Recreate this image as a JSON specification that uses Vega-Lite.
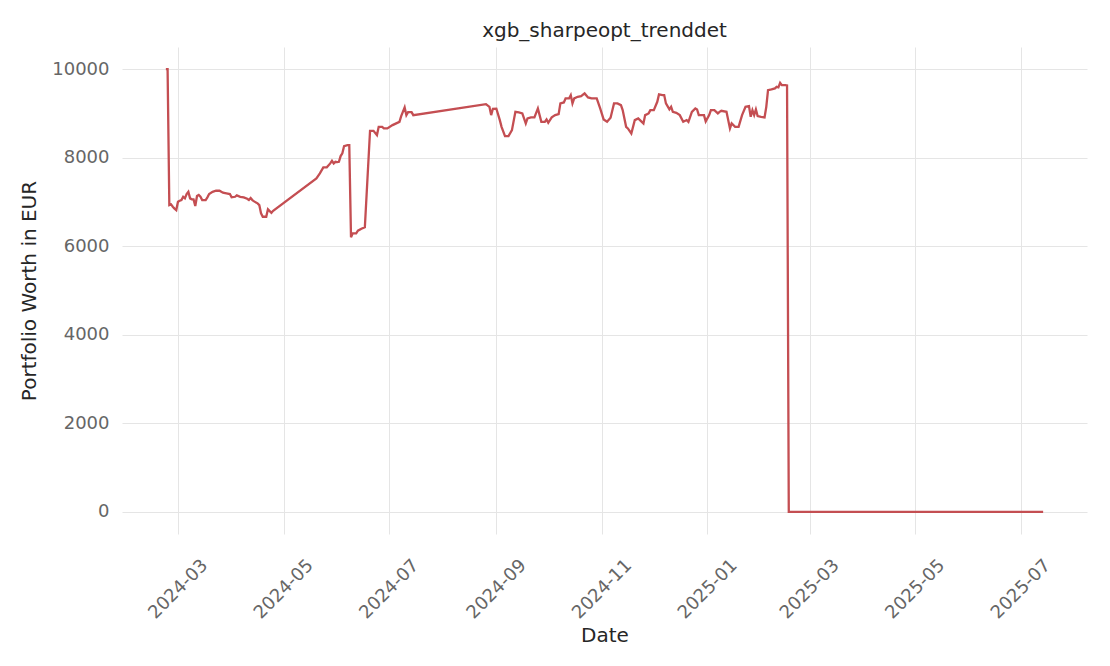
{
  "$schema": "https://vega.github.io/schema/vega-lite/v6.json",
  "width": 965,
  "height": 487,
  "autosize": {"type": "none"},
  "padding": {"left": 122, "top": 47, "right": 23, "bottom": 132},
  "background": "white",
  "title": {"text": "xgb_sharpeopt_trenddet", "fontSize": 20, "font": "DejaVu Sans", "fontWeight": "normal", "color": "#262626", "offset": 6},
  "data": {"values": [
    {"date": "2024-02-23", "value": 10000},
    {"date": "2024-02-24", "value": 10000},
    {"date": "2024-02-25", "value": 6930},
    {"date": "2024-02-26", "value": 6946},
    {"date": "2024-02-27", "value": 6892},
    {"date": "2024-02-28", "value": 6850},
    {"date": "2024-02-29", "value": 6817},
    {"date": "2024-03-01", "value": 7004},
    {"date": "2024-03-02", "value": 7027},
    {"date": "2024-03-03", "value": 7043},
    {"date": "2024-03-04", "value": 7117},
    {"date": "2024-03-05", "value": 7081},
    {"date": "2024-03-06", "value": 7178},
    {"date": "2024-03-07", "value": 7230},
    {"date": "2024-03-08", "value": 7081},
    {"date": "2024-03-09", "value": 7059},
    {"date": "2024-03-10", "value": 7059},
    {"date": "2024-03-11", "value": 6907},
    {"date": "2024-03-12", "value": 7133},
    {"date": "2024-03-13", "value": 7156},
    {"date": "2024-03-14", "value": 7117},
    {"date": "2024-03-15", "value": 7043},
    {"date": "2024-03-17", "value": 7043},
    {"date": "2024-03-18", "value": 7104},
    {"date": "2024-03-19", "value": 7178},
    {"date": "2024-03-21", "value": 7230},
    {"date": "2024-03-23", "value": 7253},
    {"date": "2024-03-25", "value": 7253},
    {"date": "2024-03-27", "value": 7208},
    {"date": "2024-03-29", "value": 7194},
    {"date": "2024-03-31", "value": 7178},
    {"date": "2024-04-01", "value": 7104},
    {"date": "2024-04-03", "value": 7117},
    {"date": "2024-04-04", "value": 7149},
    {"date": "2024-04-06", "value": 7117},
    {"date": "2024-04-08", "value": 7104},
    {"date": "2024-04-10", "value": 7072},
    {"date": "2024-04-11", "value": 7043},
    {"date": "2024-04-12", "value": 7088},
    {"date": "2024-04-13", "value": 7043},
    {"date": "2024-04-14", "value": 7013},
    {"date": "2024-04-16", "value": 6968},
    {"date": "2024-04-17", "value": 6930},
    {"date": "2024-04-18", "value": 6743},
    {"date": "2024-04-19", "value": 6666},
    {"date": "2024-04-21", "value": 6666},
    {"date": "2024-04-22", "value": 6833},
    {"date": "2024-04-24", "value": 6756},
    {"date": "2024-04-25", "value": 6801},
    {"date": "2024-05-20", "value": 7533},
    {"date": "2024-05-22", "value": 7645},
    {"date": "2024-05-24", "value": 7781},
    {"date": "2024-05-26", "value": 7781},
    {"date": "2024-05-28", "value": 7871},
    {"date": "2024-05-29", "value": 7930},
    {"date": "2024-05-30", "value": 7871},
    {"date": "2024-05-31", "value": 7907},
    {"date": "2024-06-01", "value": 7900},
    {"date": "2024-06-02", "value": 7907},
    {"date": "2024-06-03", "value": 8036},
    {"date": "2024-06-04", "value": 8097},
    {"date": "2024-06-05", "value": 8262},
    {"date": "2024-06-07", "value": 8284},
    {"date": "2024-06-08", "value": 8284},
    {"date": "2024-06-09", "value": 6201},
    {"date": "2024-06-10", "value": 6291},
    {"date": "2024-06-12", "value": 6291},
    {"date": "2024-06-13", "value": 6350},
    {"date": "2024-06-15", "value": 6395},
    {"date": "2024-06-17", "value": 6430},
    {"date": "2024-06-20", "value": 8607},
    {"date": "2024-06-22", "value": 8607},
    {"date": "2024-06-24", "value": 8510},
    {"date": "2024-06-25", "value": 8697},
    {"date": "2024-06-27", "value": 8697},
    {"date": "2024-06-28", "value": 8661},
    {"date": "2024-06-30", "value": 8661},
    {"date": "2024-07-03", "value": 8736},
    {"date": "2024-07-07", "value": 8810},
    {"date": "2024-07-08", "value": 8939},
    {"date": "2024-07-10", "value": 9135},
    {"date": "2024-07-11", "value": 8961},
    {"date": "2024-07-12", "value": 9029},
    {"date": "2024-07-14", "value": 9029},
    {"date": "2024-07-15", "value": 8961},
    {"date": "2024-08-26", "value": 9210},
    {"date": "2024-08-28", "value": 9149},
    {"date": "2024-08-29", "value": 8961},
    {"date": "2024-08-30", "value": 9104},
    {"date": "2024-09-01", "value": 9108},
    {"date": "2024-09-03", "value": 8849},
    {"date": "2024-09-04", "value": 8697},
    {"date": "2024-09-06", "value": 8487},
    {"date": "2024-09-08", "value": 8487},
    {"date": "2024-09-10", "value": 8623},
    {"date": "2024-09-12", "value": 9036},
    {"date": "2024-09-14", "value": 9022},
    {"date": "2024-09-16", "value": 9000},
    {"date": "2024-09-18", "value": 8774},
    {"date": "2024-09-19", "value": 8887},
    {"date": "2024-09-21", "value": 8910},
    {"date": "2024-09-23", "value": 8910},
    {"date": "2024-09-25", "value": 9113},
    {"date": "2024-09-27", "value": 8810},
    {"date": "2024-09-29", "value": 8810},
    {"date": "2024-09-30", "value": 8864},
    {"date": "2024-10-01", "value": 8788},
    {"date": "2024-10-03", "value": 8910},
    {"date": "2024-10-05", "value": 8961},
    {"date": "2024-10-07", "value": 8984},
    {"date": "2024-10-08", "value": 9226},
    {"date": "2024-10-10", "value": 9248},
    {"date": "2024-10-11", "value": 9338},
    {"date": "2024-10-13", "value": 9338},
    {"date": "2024-10-14", "value": 9413},
    {"date": "2024-10-15", "value": 9226},
    {"date": "2024-10-16", "value": 9338},
    {"date": "2024-10-18", "value": 9375},
    {"date": "2024-10-20", "value": 9390},
    {"date": "2024-10-22", "value": 9451},
    {"date": "2024-10-24", "value": 9361},
    {"date": "2024-10-26", "value": 9338},
    {"date": "2024-10-29", "value": 9338},
    {"date": "2024-10-31", "value": 9113},
    {"date": "2024-11-02", "value": 8864},
    {"date": "2024-11-04", "value": 8810},
    {"date": "2024-11-06", "value": 8901},
    {"date": "2024-11-08", "value": 9226},
    {"date": "2024-11-10", "value": 9226},
    {"date": "2024-11-12", "value": 9187},
    {"date": "2024-11-13", "value": 9074},
    {"date": "2024-11-15", "value": 8697},
    {"date": "2024-11-16", "value": 8661},
    {"date": "2024-11-18", "value": 8548},
    {"date": "2024-11-20", "value": 8849},
    {"date": "2024-11-22", "value": 8887},
    {"date": "2024-11-23", "value": 8849},
    {"date": "2024-11-25", "value": 8774},
    {"date": "2024-11-26", "value": 8961},
    {"date": "2024-11-28", "value": 9000},
    {"date": "2024-11-29", "value": 9074},
    {"date": "2024-12-01", "value": 9074},
    {"date": "2024-12-03", "value": 9262},
    {"date": "2024-12-04", "value": 9429},
    {"date": "2024-12-06", "value": 9413},
    {"date": "2024-12-07", "value": 9413},
    {"date": "2024-12-08", "value": 9226},
    {"date": "2024-12-10", "value": 9090},
    {"date": "2024-12-11", "value": 9149},
    {"date": "2024-12-12", "value": 9036},
    {"date": "2024-12-14", "value": 9013},
    {"date": "2024-12-16", "value": 8961},
    {"date": "2024-12-18", "value": 8810},
    {"date": "2024-12-20", "value": 8849},
    {"date": "2024-12-21", "value": 8810},
    {"date": "2024-12-23", "value": 9036},
    {"date": "2024-12-25", "value": 9113},
    {"date": "2024-12-26", "value": 9090},
    {"date": "2024-12-27", "value": 8961},
    {"date": "2024-12-30", "value": 8961},
    {"date": "2024-12-31", "value": 8820},
    {"date": "2025-01-02", "value": 8961},
    {"date": "2025-01-03", "value": 9074},
    {"date": "2025-01-05", "value": 9074},
    {"date": "2025-01-07", "value": 9000},
    {"date": "2025-01-08", "value": 9036},
    {"date": "2025-01-09", "value": 9059},
    {"date": "2025-01-12", "value": 9036},
    {"date": "2025-01-14", "value": 8661},
    {"date": "2025-01-15", "value": 8774},
    {"date": "2025-01-17", "value": 8697},
    {"date": "2025-01-19", "value": 8697},
    {"date": "2025-01-21", "value": 8961},
    {"date": "2025-01-23", "value": 9149},
    {"date": "2025-01-25", "value": 9165},
    {"date": "2025-01-26", "value": 8923},
    {"date": "2025-01-27", "value": 9074},
    {"date": "2025-01-28", "value": 8961},
    {"date": "2025-01-29", "value": 9090},
    {"date": "2025-01-30", "value": 8939},
    {"date": "2025-02-01", "value": 8923},
    {"date": "2025-02-03", "value": 8910},
    {"date": "2025-02-04", "value": 9149},
    {"date": "2025-02-05", "value": 9526},
    {"date": "2025-02-07", "value": 9542},
    {"date": "2025-02-09", "value": 9564},
    {"date": "2025-02-10", "value": 9600},
    {"date": "2025-02-11", "value": 9587},
    {"date": "2025-02-12", "value": 9691},
    {"date": "2025-02-13", "value": 9639},
    {"date": "2025-02-15", "value": 9639},
    {"date": "2025-02-16", "value": 9632},
    {"date": "2025-02-17", "value": 0},
    {"date": "2025-07-14", "value": 0}
  ]},
  "mark": {"type": "line", "color": "#c44e52", "strokeWidth": 2.3, "interpolate": "linear"},
  "encoding": {
    "x": {
      "field": "date", "type": "temporal",
      "scale": {"type": "utc", "domain": [
        {"year": 2024, "month": 1, "date": 28, "hours": 15, "minutes": 36, "utc": true},
        {"year": 2025, "month": 8, "date": 8, "hours": 8, "minutes": 24, "utc": true}
      ], "nice": false},
      "axis": {
        "title": "Date",
        "values": [
          {"year": 2024, "month": 3, "date": 1, "utc": true},
          {"year": 2024, "month": 5, "date": 1, "utc": true},
          {"year": 2024, "month": 7, "date": 1, "utc": true},
          {"year": 2024, "month": 9, "date": 1, "utc": true},
          {"year": 2024, "month": 11, "date": 1, "utc": true},
          {"year": 2025, "month": 1, "date": 1, "utc": true},
          {"year": 2025, "month": 3, "date": 1, "utc": true},
          {"year": 2025, "month": 5, "date": 1, "utc": true},
          {"year": 2025, "month": 7, "date": 1, "utc": true}
        ],
        "labelExpr": "utcFormat(datum.value, '%Y-%m')",
        "labelAngle": -45, "labelAlign": "center", "labelBaseline": "middle",
        "labelPadding": 55, "labelFontSize": 18, "labelFont": "DejaVu Sans", "labelColor": "#666666",
        "labelOverlap": false, "labelFlush": false,
        "ticks": false, "tickSize": 0, "domain": false,
        "grid": true, "gridColor": "#e5e5e5", "gridWidth": 1,
        "titleFont": "DejaVu Sans", "titleFontSize": 20, "titleFontWeight": "normal", "titleColor": "#262626", "titlePadding": 4
      }
    },
    "y": {
      "field": "value", "type": "quantitative",
      "scale": {"domain": [-500, 10500], "nice": false, "zero": false},
      "axis": {
        "title": "Portfolio Worth in EUR",
        "values": [0, 2000, 4000, 6000, 8000, 10000],
        "format": "d",
        "labelFontSize": 18, "labelFont": "DejaVu Sans", "labelColor": "#666666", "labelPadding": 13,
        "ticks": false, "tickSize": 0, "domain": false,
        "grid": true, "gridColor": "#e5e5e5", "gridWidth": 1,
        "titleFont": "DejaVu Sans", "titleFontSize": 20, "titleFontWeight": "normal", "titleColor": "#262626", "titlePadding": 12
      }
    }
  },
  "config": {"view": {"stroke": null}}
}
